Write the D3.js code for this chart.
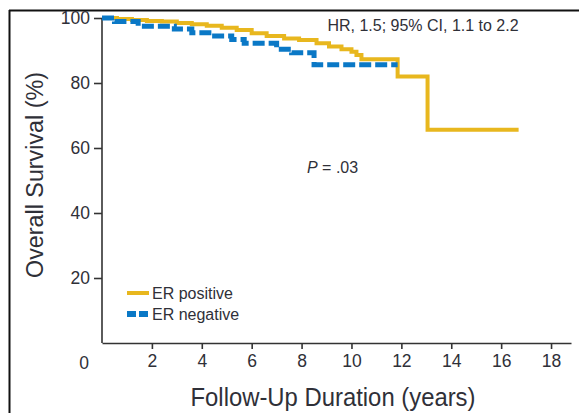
<!DOCTYPE html>
<html>
<head>
<meta charset="utf-8">
<script src="https://cdn.jsdelivr.net/npm/d3@7"></script>
<style>
  html, body { margin: 0; padding: 0; background: #fff; }
  svg { display: block; }
  text { font-family: "Liberation Sans", Arial, Helvetica, sans-serif; fill: #2f3038; }
  .narrow { font-family: "Liberation Sans Narrow", "Arial Narrow", "Liberation Sans", sans-serif; }
</style>
</head>
<body>
<svg id="chart" width="579" height="413"></svg>
<script>
// Kaplan-Meier overall survival by ER status
const xTicks = [2, 4, 6, 8, 10, 12, 14, 16, 18];
const yTicks = [20, 40, 60, 80, 100];

const erPosTime = [0, 0.6, 1.2, 1.8, 2.4, 3.0, 3.6, 4.2, 4.8, 5.4, 6.0, 6.6, 7.3, 7.9, 8.6, 9.1, 9.6, 10.0, 10.2, 10.4, 11.85, 13.05, 16.7];
const erPosSurv = [100, 99.7, 99.4, 99.1, 98.9, 98.5, 98.1, 97.6, 97.0, 96.3, 95.3, 94.5, 93.7, 93.2, 92.2, 91.2, 90.4, 89.6, 88.6, 87.3, 82.0, 65.6, 65.6];

const erNegTime = [0, 0.5, 1.45, 2.9, 3.6, 4.4, 5.2, 5.7, 7.0, 7.6, 8.5, 11.85];
const erNegSurv = [100, 98.9, 97.5, 96.6, 95.5, 94.5, 93.4, 92.2, 90.4, 89.3, 85.6, 85.6];

const seriesNames = ["ER positive", "ER negative"];
const colors = ["#e8b71e", "#0a78c6"];

const svg = d3.select("#chart");
const x = d3.scaleLinear().domain([0, 18.8]).range([102, 571]);
const y = d3.scaleLinear().domain([0, 100]).range([343, 18]);

// outer frame (top and left edges)
svg.append("line").attr("x1", 9).attr("x2", 579).attr("y1", 10.5).attr("y2", 10.5)
  .attr("stroke", "#111").attr("stroke-width", 2);
svg.append("line").attr("x1", 9.5).attr("x2", 9.5).attr("y1", 10).attr("y2", 413)
  .attr("stroke", "#111").attr("stroke-width", 2);

// axes
const xAxis = svg.append("g").attr("transform", "translate(0,343)")
  .call(d3.axisBottom(x).tickValues(xTicks).tickSize(6).tickPadding(6).tickSizeOuter(0));
const yAxis = svg.append("g").attr("transform", "translate(102,0)")
  .call(d3.axisLeft(y).tickValues(yTicks).tickSize(8).tickPadding(4).tickSizeOuter(0));
[xAxis, yAxis].forEach(g => {
  g.select(".domain").attr("stroke", "#333").attr("stroke-width", 1.6);
  g.selectAll(".tick line").attr("stroke", "#333").attr("stroke-width", 1.6);
  g.selectAll(".tick text").attr("font-size", 17.5).style("fill", "#2f3038")
    .attr("font-family", "Liberation Sans, Arial, sans-serif");
});
// y-axis domain starts at 0 on the x-axis
yAxis.select(".domain").attr("d", `M0,${y(100)}V${y(0)}`);
// corner origin label
svg.append("text").attr("x", 84).attr("y", 369).attr("text-anchor", "middle")
  .attr("font-size", 17.5).text("0");

// survival curves
const step = d3.line().curve(d3.curveStepAfter).x(d => x(d[0])).y(d => y(d[1]));
const posData = erPosTime.map((t, i) => [t, erPosSurv[i]]);
const negData = erNegTime.map((t, i) => [t, erNegSurv[i]]);

svg.append("path").datum(posData).attr("d", step)
  .attr("fill", "none").attr("stroke", colors[0]).attr("stroke-width", 4);
svg.append("path").datum(negData).attr("d", step)
  .attr("fill", "none").attr("stroke", colors[1]).attr("stroke-width", 5)
  .attr("stroke-dasharray", "12,4");

// legend
const legend = svg.append("g");
[0, 1].forEach(i => {
  const ly = 293 + i * 21;
  legend.append("line").attr("x1", 127).attr("x2", 149).attr("y1", ly).attr("y2", ly)
    .attr("stroke", colors[i]).attr("stroke-width", i === 0 ? 4 : 6)
    .attr("stroke-dasharray", i === 0 ? null : "9,3");
  legend.append("text").attr("x", 152).attr("y", ly + 6).attr("font-size", 16)
    .text(seriesNames[i]);
});

// annotations
svg.append("text").attr("x", 423).attr("y", 31).attr("text-anchor", "middle")
  .attr("font-size", 16).text("HR, 1.5; 95% CI, 1.1 to 2.2");
const pText = svg.append("text").attr("x", 307).attr("y", 173).attr("font-size", 16);
pText.append("tspan").attr("font-style", "italic").text("P");
pText.append("tspan").text(" = .03");

// axis titles
svg.append("text").attr("class", "narrow")
  .attr("transform", "translate(43,175) rotate(-90)")
  .attr("text-anchor", "middle").attr("font-size", 23)
  .attr("textLength", 206).attr("lengthAdjust", "spacingAndGlyphs")
  .text("Overall Survival (%)");
svg.append("text").attr("class", "narrow")
  .attr("x", 333).attr("y", 406).attr("text-anchor", "middle").attr("font-size", 26)
  .attr("textLength", 285).attr("lengthAdjust", "spacingAndGlyphs")
  .text("Follow-Up Duration (years)");
</script>
</body>
</html>
